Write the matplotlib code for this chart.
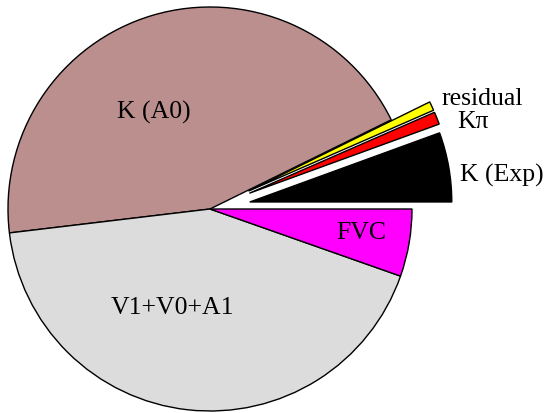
import matplotlib
matplotlib.use("Agg")
import matplotlib.pyplot as plt

# share of each contribution (percent), counter-clockwise from 3 o'clock
labels = ["K (Exp)", "K\u03c0", "residual", "K (A0)", "V1+V0+A1", "FVC"]
values = [5.56, 1.00, 0.72, 44.61, 42.72, 5.39]
colors = ["#000000", "#ff0000", "#ffff00", "#bc8f8f", "#dcdcdc", "#ff00ff"]
explode = [0.20, 0.21, 0.21, 0, 0, 0]

# label anchor points (pixels in the 547x414 picture, text baseline)
label_px = [(502, 182), (473, 128), (482, 105), (154, 119), (172, 314), (361, 239)]

plt.rcParams["font.family"] = ["Liberation Serif", "DejaVu Serif"]

W, H = 547, 414
cx, cy, R = 210, 210, 202

fig = plt.figure(figsize=(W / 100, H / 100), dpi=100)
ax = fig.add_axes([0, 0, 1, 1])

ax.pie(values, colors=colors, explode=explode, startangle=0, counterclock=True,
       radius=1.0, wedgeprops=dict(edgecolor="black", linewidth=1.0))

for lab, (px, py) in zip(labels, label_px):
    ax.text((px - cx) / R, (cy - py) / R, lab, ha="center", va="baseline",
            fontsize=18.5, color="black")

ax.set_xlim(-cx / R, (W - cx) / R)
ax.set_ylim(-(H - cy) / R, cy / R)
ax.set_aspect("auto")
ax.axis("off")

fig.savefig("out.png", dpi=100)
